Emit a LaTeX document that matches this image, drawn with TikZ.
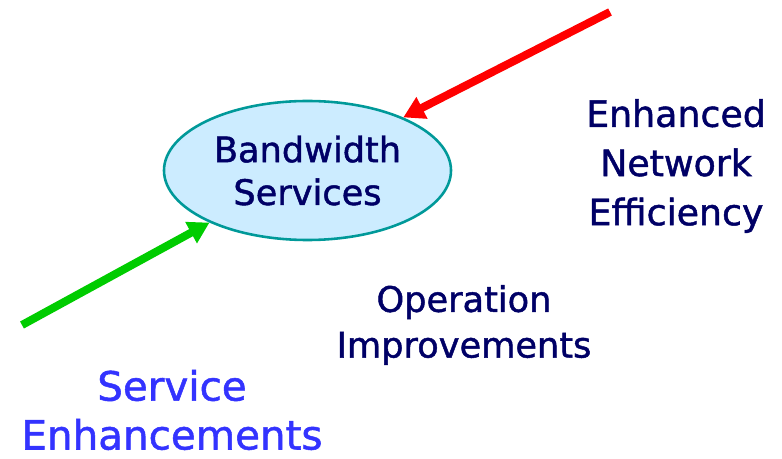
\documentclass[tikz,border=0pt]{standalone}
\usepackage{fontspec}
\setmainfont{DejaVu Sans}
\newfontfamily\heavy[FakeBold=1.3]{DejaVu Sans}
\usetikzlibrary{shapes.geometric,arrows.meta}

\definecolor{navytext}{HTML}{000066}
\definecolor{servblue}{HTML}{3333FF}
\definecolor{bubblefill}{HTML}{CCECFF}
\definecolor{bubbleline}{HTML}{009999}
\definecolor{redarrow}{HTML}{FF0000}
\definecolor{greenarrow}{HTML}{00CC00}

\begin{document}
\begin{tikzpicture}[x=0.03cm, y=-0.03cm,
  tag/.style={align=center, inner sep=0pt, text=navytext},
  fat/.style={line width=0.24cm, -{Triangle[length=0.63cm,width=0.69cm]}}]

\useasboundingbox (0,0) rectangle (782,459);

% centre bubble
\node[ellipse, draw=bubbleline, fill=bubblefill, line width=2.2pt,
      minimum width=8.61cm, minimum height=4.17cm, tag,
      font=\heavy\fontsize{30}{36.5}\selectfont] (bw) at (307.5,170.5) {Bandwidth\\Services};

% arrows
\coordinate (redtail) at (610,12);
\coordinate (greentail) at (22,325);
\draw[fat, redarrow] (redtail) -- (bw.29);
\draw[fat, greenarrow] (greentail) -- (bw.208);

% labels
\node[tag, font=\heavy\fontsize{31}{42}\selectfont] (net) at (676,166) {Enhanced\\Network\\Efficiency};
\node[tag, font=\heavy\fontsize{30}{39}\selectfont] (ops) at (464,325) {Operation\\Improvements};
\node[tag, text=servblue, font=\heavy\fontsize{34.5}{41.7}\selectfont] (svc) at (172,410) {Service\\Enhancements};

\end{tikzpicture}
\end{document}
